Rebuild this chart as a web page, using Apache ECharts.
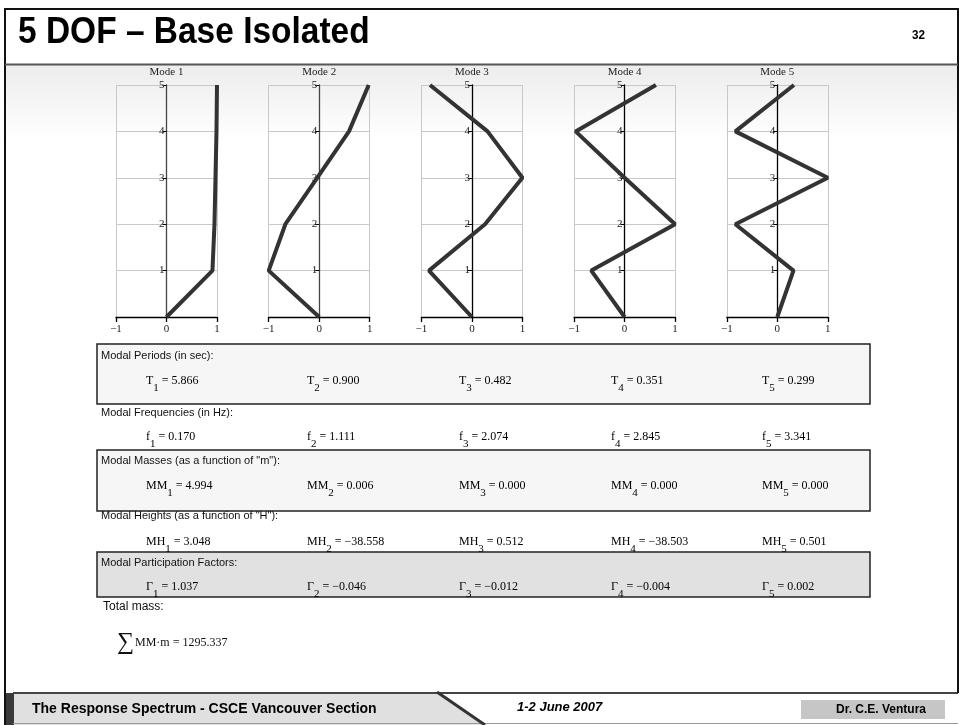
<!DOCTYPE html>
<html>
<head>
<meta charset="utf-8">
<title>5 DOF – Base Isolated</title>
<script src="https://cdn.jsdelivr.net/npm/echarts@6/dist/echarts.min.js"></script>
<style>
  html, body { margin: 0; padding: 0; background: #fff; }
  #chart { width: 964px; height: 725px; }
</style>
</head>
<body>
<div id="chart"></div>
<script>
// Storey levels (0 = base, 5 = roof)
const levels = [0, 1, 2, 3, 4, 5];

// Normalised mode shapes, one value per level
const mode1 = [0, 0.91, 0.95, 0.97, 0.99, 1.0];
const mode2 = [0, -1.0, -0.67, -0.04, 0.59, 0.98];
const mode3 = [0, -0.85, 0.26, 1.0, 0.31, -0.83];
const mode4 = [0, -0.66, 1.0, 0.0, -0.97, 0.62];
const mode5 = [0, 0.32, -0.83, 1.0, -0.83, 0.33];
const modeShapes = [mode1, mode2, mode3, mode4, mode5];
const modeNames = ['Mode 1', 'Mode 2', 'Mode 3', 'Mode 4', 'Mode 5'];

// Tick labels
const xTickLabels = { '-1': '\u22121', '0': '0', '1': '1' };
const yTickLabels = ['0', '1', '2', '3', '4', '5'];

// Modal results
const periods = [5.866, 0.900, 0.482, 0.351, 0.299];
const frequencies = [0.170, 1.111, 2.074, 2.845, 3.341];
const modalMasses = [4.994, 0.006, 0.000, 0.000, 0.000];
const modalHeights = [3.048, -38.558, 0.512, -38.503, 0.501];
const participation = [1.037, -0.046, -0.012, -0.004, 0.002];
const totalMass = 1295.337;

const SANS = '"Liberation Sans", Arial, sans-serif';
const SERIF = '"Liberation Serif", "Times New Roman", serif';

const chart = echarts.init(document.getElementById('chart'), null, { renderer: 'canvas' });

// Small-multiple layout
const gridLeft0 = 116, gridStep = 152.7, gridW = 101, gridTop = 85, gridH = 232;

const grids = [], xAxes = [], yAxes = [], series = [];
modeShapes.forEach((shape, i) => {
  const left = gridLeft0 + i * gridStep;
  grids.push({ left: left, top: gridTop, width: gridW, height: gridH, containLabel: false });
  xAxes.push({
    gridIndex: i, type: 'value', min: -1, max: 1, interval: 1,
    axisLine: { show: true, onZero: false, lineStyle: { color: '#000', width: 1.3 } },
    axisTick: { show: true, length: 5, lineStyle: { color: '#000', width: 1.3 } },
    axisLabel: {
      margin: 7, fontFamily: SERIF, fontSize: 11, color: '#222',
      formatter: v => xTickLabels[String(v)]
    },
    splitLine: { show: true, lineStyle: { color: '#c8c8c8', width: 1 } }
  });
  // vertical axis sits on x = 0, i.e. half the grid width inside the left edge
  yAxes.push({
    gridIndex: i, type: 'value', min: 0, max: 5, interval: 1,
    position: 'left', offset: -gridW / 2,
    axisLine: { show: true, onZero: false, lineStyle: { color: i < 2 ? '#444' : '#000', width: 1.3 } },
    axisTick: { show: true, length: 4, lineStyle: { color: '#000' } },
    axisLabel: {
      margin: 2, fontFamily: SERIF, fontSize: 11, color: '#222',
      formatter: v => (v === 0 ? '' : yTickLabels[v])
    },
    splitLine: { show: true, lineStyle: { color: '#c8c8c8', width: 1 } }
  });
  series.push({
    type: 'line', xAxisIndex: i, yAxisIndex: i,
    data: levels.map((lv, j) => [shape[j], lv]),
    showSymbol: false, symbol: 'none',
    lineStyle: { color: '#333', width: 4 },
    z: 5, animation: false
  });
});

// Helpers for the formula rows
function fmt(v) {
  return (v < 0 ? '\u2212' : '') + Math.abs(v).toFixed(3);
}
const colX = [146, 307, 459, 611, 762];
const rich = {
  m: { fontFamily: SERIF, fontSize: 12, color: '#111', lineHeight: 22, verticalAlign: 'top', padding: [3, 0, 0, 0] },
  s: { fontFamily: SERIF, fontSize: 11, color: '#111', lineHeight: 12, verticalAlign: 'bottom' },
  g: { fontFamily: SERIF, fontSize: 11, color: '#111', lineHeight: 19, verticalAlign: 'bottom' }
};
function formulaRow(symbol, values, yc, subKey) {
  return values.map((v, i) => ({
    type: 'text', z: 30,
    x: colX[i], y: yc - 9,
    style: {
      text: '{m|' + symbol + '}{' + subKey + '|' + (i + 1) + '}{m| = ' + fmt(v) + '}',
      rich: rich, align: 'left', verticalAlign: 'top'
    }
  }));
}
function header(txt, x, yc, size, z) {
  return {
    type: 'text', z: z || 30, x: x, y: yc,
    style: { text: txt, font: (size || 11) + 'px ' + SANS, fill: '#111', align: 'left', verticalAlign: 'middle' }
  };
}
function box(x, y, w, h, fill, z) {
  return {
    type: 'rect', z: z || 2,
    shape: { x: x, y: y, width: w, height: h },
    style: { fill: fill, stroke: '#222', lineWidth: 1.5 }
  };
}

const graphics = [
  // slide content background
  {
    type: 'rect', z: -10,
    shape: { x: 5, y: 64, width: 953, height: 629 },
    style: {
      fill: new echarts.graphic.LinearGradient(0, 0, 0, 1, [
        { offset: 0, color: '#ececec' },
        { offset: 0.12, color: '#ffffff' },
        { offset: 1, color: '#ffffff' }
      ])
    }
  },
  // slide frame
  { type: 'line', z: 40, shape: { x1: 5, y1: 9, x2: 958, y2: 9 }, style: { stroke: '#111', lineWidth: 2 } },
  { type: 'line', z: 40, shape: { x1: 5, y1: 8, x2: 5, y2: 725 }, style: { stroke: '#111', lineWidth: 2 } },
  { type: 'line', z: 40, shape: { x1: 958, y1: 8, x2: 958, y2: 693 }, style: { stroke: '#111', lineWidth: 2 } },
  { type: 'line', z: 40, shape: { x1: 5, y1: 64.5, x2: 958, y2: 64.5 }, style: { stroke: '#555', lineWidth: 2 } },
  // title
  {
    type: 'text', z: 40, x: 18, y: 33, scaleX: 0.93,
    style: { text: '5 DOF \u2013 Base Isolated', font: 'bold 36px ' + SANS, fill: '#000', align: 'left', verticalAlign: 'middle' }
  },
  {
    type: 'text', z: 40, x: 925, y: 35, scaleX: 0.9,
    style: { text: '32', font: 'bold 13px ' + SANS, fill: '#000', align: 'right', verticalAlign: 'middle' }
  }
];

// mode titles
modeNames.forEach((name, i) => {
  graphics.push({
    type: 'text', z: 30, x: gridLeft0 + i * gridStep + gridW / 2, y: 72,
    style: { text: name, font: '11px ' + SERIF, fill: '#222', align: 'center', verticalAlign: 'middle' }
  });
});

// results panels (the masses box is drawn over the top of the heights caption)
graphics.push(
  box(97, 344, 773, 60, '#f6f6f6', 2),
  header('Modal Periods (in sec):', 101, 356),
  ...formulaRow('T', periods, 381, 's'),
  header('Modal Frequencies (in Hz):', 101, 413),
  ...formulaRow('f', frequencies, 437, 's'),
  header('Modal Heights (as a function of "H"):', 101, 516, 11, 20),
  box(97, 450, 773, 61, '#f6f6f6', 25),
  header('Modal Masses (as a function of "m"):', 101, 461),
  ...formulaRow('MM', modalMasses, 486, 's'),
  ...formulaRow('MH', modalHeights, 542, 's'),
  box(97, 552, 773, 45, '#e1e1e1', 2),
  header('Modal Participation Factors:', 101, 563),
  ...formulaRow('\u0393', participation, 587, 'g'),
  header('Total mass:', 103, 607, 12)
);

// total mass formula
graphics.push(
  {
    type: 'text', z: 30, x: 117, y: 643,
    style: { text: '\u2211', font: '24px ' + SERIF, fill: '#111', align: 'left', verticalAlign: 'middle' }
  },
  {
    type: 'text', z: 30, x: 135, y: 643,
    style: { text: 'MM\u00B7m = ' + totalMass.toFixed(3), font: '12px ' + SERIF, fill: '#111', align: 'left', verticalAlign: 'middle' }
  }
);

// footer
graphics.push(
  { type: 'rect', z: 35, shape: { x: 5, y: 693, width: 953, height: 32 }, style: { fill: '#ffffff' } },
  {
    type: 'polygon', z: 36,
    shape: { points: [[13, 693], [437, 693], [485, 725], [13, 725]] },
    style: { fill: '#e0e0e0' }
  },
  { type: 'rect', z: 37, shape: { x: 4, y: 693, width: 10, height: 32 }, style: { fill: '#3a3a3a' } },
  { type: 'line', z: 37, shape: { x1: 13, y1: 693, x2: 958, y2: 693 }, style: { stroke: '#444', lineWidth: 2 } },
  { type: 'line', z: 37, shape: { x1: 13, y1: 723.5, x2: 958, y2: 723.5 }, style: { stroke: '#999', lineWidth: 1 } },
  { type: 'line', z: 37, shape: { x1: 437, y1: 692, x2: 485, y2: 725 }, style: { stroke: '#333', lineWidth: 3 } },
  {
    type: 'text', z: 38, x: 32, y: 709,
    style: { text: 'The Response Spectrum - CSCE Vancouver Section', font: 'bold 14px ' + SANS, fill: '#000', align: 'left', verticalAlign: 'middle' }
  },
  {
    type: 'text', z: 38, x: 517, y: 707,
    style: { text: '1-2 June 2007', font: 'italic bold 13px ' + SANS, fill: '#000', align: 'left', verticalAlign: 'middle' }
  },
  { type: 'rect', z: 37, shape: { x: 801, y: 700, width: 144, height: 19 }, style: { fill: '#c6c6c6' } },
  {
    type: 'text', z: 38, x: 881, y: 710,
    style: { text: 'Dr. C.E. Ventura', font: 'bold 12px ' + SANS, fill: '#000', align: 'center', verticalAlign: 'middle' }
  }
);

chart.setOption({
  animation: false,
  backgroundColor: '#ffffff',
  grid: grids,
  xAxis: xAxes,
  yAxis: yAxes,
  series: series,
  graphic: { elements: graphics }
});
</script>
</body>
</html>
